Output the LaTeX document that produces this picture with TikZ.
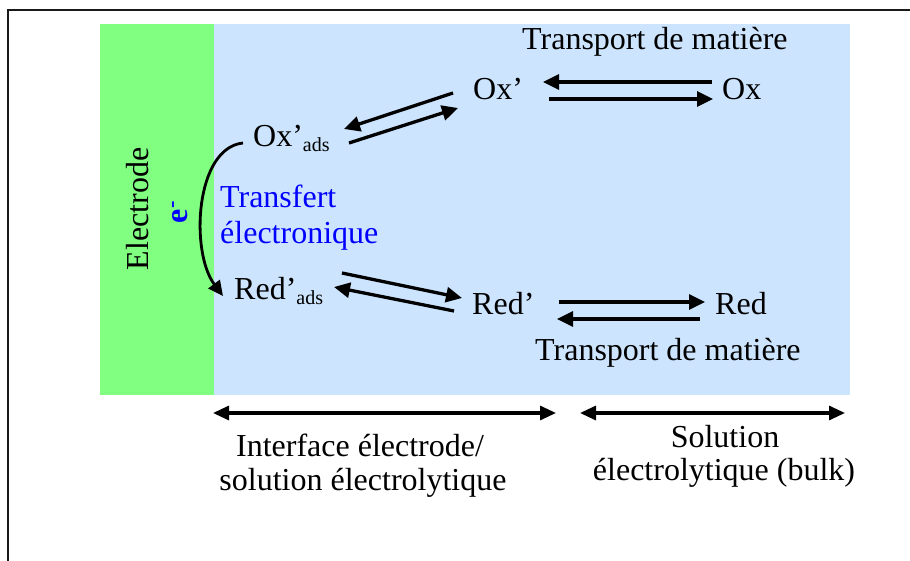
\documentclass[tikz,border=0pt]{standalone}
\usepackage{fontspec}
\setmainfont{Liberation Serif}
\usetikzlibrary{arrows.meta}
\definecolor{elgreen}{RGB}{128,255,128}
\definecolor{solblue}{RGB}{204,228,253}
\definecolor{txtblue}{RGB}{0,0,255}
\newcommand{\subads}{{\fontsize{20}{20}\selectfont\raisebox{-4.5pt}{ads}}}
\begin{document}
\begin{tikzpicture}[x=1pt,y=-1pt,
  txt/.style={inner sep=0pt,font=\fontsize{32}{36}\selectfont},
  rx/.style={line width=3.3pt,-{Triangle[length=16pt,width=15pt]}},
  dim/.style={line width=3.1pt,{Triangle[length=16pt,width=14pt]}-{Triangle[length=16pt,width=14pt]}}]
\useasboundingbox (0,0) rectangle (910,561);
\begin{scope}
\clip (0,0) rectangle (910,561);
\draw[line width=2.4pt,black!90] (8,10) rectangle (940,600);
\end{scope}
% regions
\fill[elgreen] (100,24) rectangle (214,395);
\fill[solblue] (214,24) rectangle (850,395);
% texts
\node[txt,anchor=base west] (tr1) at (522,50) {Transport de matière};
\node[txt,anchor=base west] (oxp) at (473,100) {Ox’};
\node[txt,anchor=base west] (ox) at (722,100) {Ox};
\node[txt,anchor=base west] (oxads) at (253,147) {Ox’\subads};
\node[txt,anchor=base west] (redads) at (234,300) {Red’\subads};
\node[txt,anchor=base west] (redp) at (472,315) {Red’};
\node[txt,anchor=base west] (red) at (715,315) {Red};
\node[txt,anchor=base west] (tr2) at (535,360) {Transport de matière};
\node[txt,anchor=base west,text=txtblue] (tf1) at (220,208) {Transfert};
\node[txt,anchor=base west,text=txtblue] (tf2) at (220,244) {électronique};
\node[txt,rotate=90] (elec) at (138,209) {Electrode};
\node[txt,rotate=90,text=txtblue] (elc) at (180,212) {\textbf{e\textsuperscript{-}}};
\node[txt,anchor=base] (int1) at (360,456) {Interface électrode/};
\node[txt,anchor=base] (int2) at (363,490) {solution électrolytique};
\node[txt,anchor=base] (sol1) at (725,447) {Solution};
\node[txt,anchor=base] (sol2) at (724,480) {électrolytique (bulk)};
% arrow end points
\coordinate (a1s) at (712,82);  \coordinate (a1e) at (543,82);
\coordinate (a2s) at (549,99);  \coordinate (a2e) at (713,99);
\coordinate (b1s) at (453,93);  \coordinate (b1e) at (344,129);
\coordinate (b2s) at (349,143); \coordinate (b2e) at (458,108);
\coordinate (c1s) at (342,273); \coordinate (c1e) at (462,298);
\coordinate (c2s) at (454,311); \coordinate (c2e) at (334,287);
\coordinate (d1s) at (559,302); \coordinate (d1e) at (705,302);
\coordinate (d2s) at (700,319); \coordinate (d2e) at (557,319);
\coordinate (es) at (243,143);  \coordinate (ee) at (223,296);
\coordinate (m1a) at (213,413); \coordinate (m1b) at (556,413);
\coordinate (m2a) at (580,413); \coordinate (m2b) at (845,413);
\draw[rx] (a1s) -- (a1e);
\draw[rx] (a2s) -- (a2e);
\draw[rx] (b1s) -- (b1e);
\draw[rx] (b2s) -- (b2e);
\draw[rx] (c1s) -- (c1e);
\draw[rx] (c2s) -- (c2e);
\draw[rx] (d1s) -- (d1e);
\draw[rx] (d2s) -- (d2e);
\draw[line width=2.8pt,-{Triangle[length=15pt,width=14pt]}] (es) .. controls (195,148) and (190,252) .. (ee);
\draw[dim] (m1a) -- (m1b);
\draw[dim] (m2a) -- (m2b);
\end{tikzpicture}
\end{document}
